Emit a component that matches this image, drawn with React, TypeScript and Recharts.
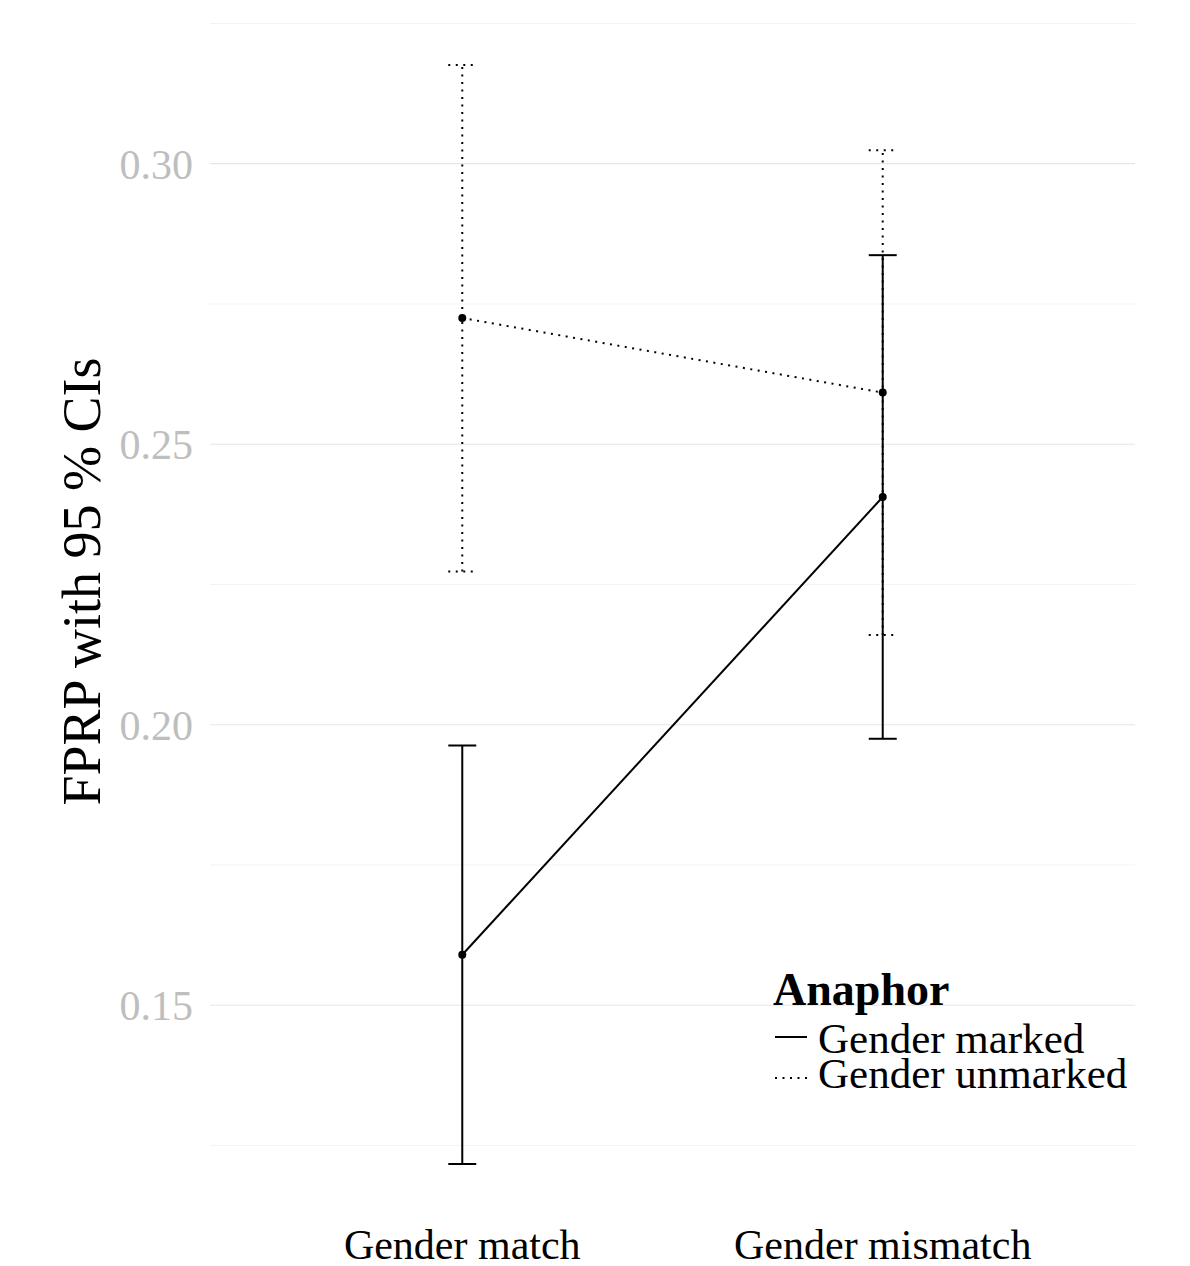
import { LineChart, Line, XAxis, YAxis, CartesianGrid, ErrorBar, ReferenceLine } from "recharts";

const categories = ["Gender match", "Gender mismatch"];
const seriesNames = ["Gender marked", "Gender unmarked"];

const markedMean = [0.159, 0.2406];
const markedLow = [0.1217, 0.1975];
const markedHigh = [0.1963, 0.2837];

const unmarkedMean = [0.2725, 0.2592];
const unmarkedLow = [0.2273, 0.216];
const unmarkedHigh = [0.3176, 0.3024];

const majorTicks = [0.15, 0.2, 0.25, 0.3];
const minorTicks = [0.125, 0.175, 0.225, 0.275, 0.325];

const FONT = '"Liberation Serif", "Times New Roman", serif';
const DOTTED = "2 5.5";

const build = (mean: number[], low: number[], high: number[]) =>
  categories.map((c, i) => ({
    x: i + 1,
    name: c,
    value: mean[i],
    err: [mean[i] - low[i], high[i] - mean[i]],
  }));

const markedData = build(markedMean, markedLow, markedHigh);
const unmarkedData = build(unmarkedMean, unmarkedLow, unmarkedHigh);

function AxisTitle({ viewBox }: any) {
  const cx = viewBox.x + 82;
  const cy = viewBox.y + viewBox.height / 2 - 33;
  return (
    <text
      transform={`translate(${cx}, ${cy}) rotate(-90)`}
      textAnchor="middle"
      dominantBaseline="central"
      fontFamily={FONT}
      fontSize={54}
      fill="#000"
    >
      FPRP with 95 % CIs
    </text>
  );
}

function AnaphorLegend() {
  return (
    <svg width={400} height={150} style={{ position: "absolute", left: 760, top: 960 }}>
      <text x={13} y={45} fontFamily={FONT} fontSize={46} fontWeight="bold" fill="#000">
        Anaphor
      </text>
      <line x1={15} x2={47} y1={77} y2={77} stroke="#000" strokeWidth={2} />
      <text x={58} y={93} fontFamily={FONT} fontSize={43} fill="#000">
        {seriesNames[0]}
      </text>
      <line x1={15} x2={47} y1={118} y2={118} stroke="#000" strokeWidth={2} strokeDasharray={DOTTED} />
      <text x={58} y={128} fontFamily={FONT} fontSize={43} fill="#000">
        {seriesNames[1]}
      </text>
    </svg>
  );
}

export default function App() {
  return (
    <div style={{ position: "relative", width: 1190, height: 1266, background: "#fff" }}>
      <style>{`body{margin:0}`}</style>
      <LineChart width={1190} height={1266} margin={{ top: 10, right: 55, left: 0, bottom: 0 }}>
        <CartesianGrid vertical={false} stroke="#e6e6e6" strokeWidth={1.2} syncWithTicks />
        {minorTicks.map((t) => (
          <ReferenceLine key={t} y={t} stroke="#f3f3f3" strokeWidth={1} />
        ))}
        <XAxis
          type="number"
          dataKey="x"
          domain={[0.4, 2.6]}
          ticks={[1, 2]}
          tickFormatter={(v) => categories[v - 1]}
          axisLine={false}
          tickLine={false}
          tickSize={0}
          tickMargin={10}
          height={47}
          tick={{ fontFamily: FONT, fontSize: 42, fill: "#000" }}
          allowDuplicatedCategory={false}
        />
        <YAxis
          type="number"
          domain={[0.1119, 0.3274]}
          ticks={majorTicks}
          tickFormatter={(v) => v.toFixed(2)}
          axisLine={false}
          tickLine={false}
          tickSize={0}
          tickMargin={17}
          width={210}
          tick={{ fontFamily: FONT, fontSize: 42, fill: "#bebebe" }}
          label={{ content: AxisTitle }}
        />
        <Line
          data={markedData}
          dataKey="value"
          stroke="#000"
          strokeWidth={2}
          dot={{ r: 4, fill: "#000", stroke: "none" }}
          isAnimationActive={false}
        >
          <ErrorBar dataKey="err" width={14} stroke="#000" strokeWidth={2} direction="y" />
        </Line>
        <Line
          data={unmarkedData}
          dataKey="value"
          stroke="#000"
          strokeWidth={2}
          strokeDasharray={DOTTED}
          dot={{ r: 4, fill: "#000", stroke: "none", strokeDasharray: "0" }}
          isAnimationActive={false}
        >
          <ErrorBar
            dataKey="err"
            width={14}
            stroke="#000"
            strokeWidth={2}
            strokeDasharray={DOTTED}
            direction="y"
          />
        </Line>
      </LineChart>
      <AnaphorLegend />
    </div>
  );
}
